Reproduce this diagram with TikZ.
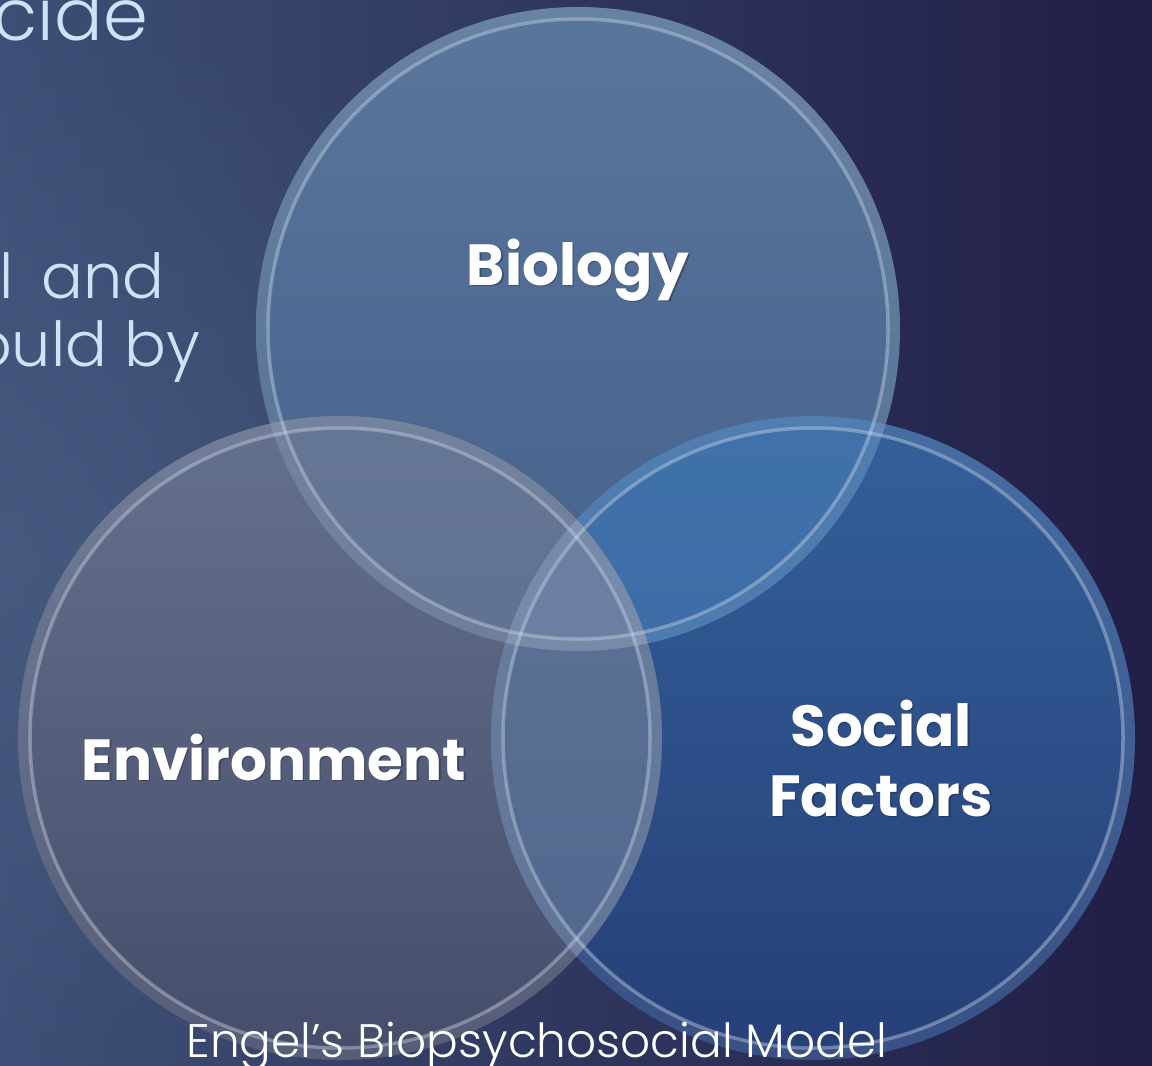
\documentclass[tikz,border=0pt]{standalone}
\usepackage{fontspec}
\setmainfont{Poppins}
\IfFontExistsTF{Poppins Light}
  {\newfontfamily\thinfont{Poppins Light}}
  {\newfontfamily\thinfont{Poppins}}
\usetikzlibrary{fadings}

% palette
\definecolor{bgL}{HTML}{3D4F76}
\definecolor{bgR}{HTML}{211E47}
\definecolor{bgGlow}{HTML}{485C82}
\definecolor{bodyTxt}{HTML}{CFE2F7}
\definecolor{bioT}{HTML}{5A769C}
\definecolor{bioB}{HTML}{45618B}
\definecolor{envT}{HTML}{64718E}
\definecolor{envB}{HTML}{464D6A}
\definecolor{socT}{HTML}{34609A}
\definecolor{socB}{HTML}{263F78}
\definecolor{bsT}{HTML}{4072AA}
\definecolor{bsB}{HTML}{3865A0}
\definecolor{ebT}{HTML}{6E7E9C}
\definecolor{ebB}{HTML}{617290}
\definecolor{esT}{HTML}{5E7699}
\definecolor{esB}{HTML}{50658C}
\definecolor{ebsC}{HTML}{6A7FA2}
\definecolor{rimC}{HTML}{C8D4E8}

\tikzfading[name=glowfade, inner color=transparent!0, outer color=transparent!100]

\tikzset{
  rimband/.style={draw=white, draw opacity=0.09, line width=12pt},
  rimline/.style={draw=rimC, draw opacity=0.42, line width=3.5pt},
  lblfont/.style={font=\fontsize{58}{70}\selectfont\bfseries, align=center},
  lbl/.style={lblfont, text=white},
  lblshadow/.style={lblfont, text=black, text opacity=0.25},
  bodytext/.style={text=bodyTxt, font=\thinfont\fontsize{62}{70}\selectfont, inner sep=0pt, anchor=base east},
  caption/.style={text=white, font=\thinfont\fontsize{47}{52}\selectfont, inner sep=0pt, anchor=base}
}

\begin{document}
\begin{tikzpicture}[x=1pt,y=-1pt]
  \useasboundingbox (0,0) rectangle (1152,1066);
  \clip (0,0) rectangle (1152,1066);

  % backdrop
  \shade[left color=bgL, right color=bgR] (0,0) rectangle (1152,1066);
  \fill[bgGlow, path fading=glowfade, fill opacity=0.8] (0,560) ellipse (620 and 560);

  % slide text running behind the diagram
  \node[bodytext, font=\thinfont\fontsize{72}{80}\selectfont] (ttl) at (148,40) {cide};
  \node[bodytext] (ln1) at (165,298) {l\hspace{0.45em}and};
  \node[bodytext] (ln2) at (200,366) {ould by};

  % circle centres
  \coordinate (cB) at (578,329);
  \coordinate (cE) at (340,738);
  \coordinate (cS) at (813,738);
  \def\R{322}

  % base discs
  \shade[top color=bioT, bottom color=bioB] (cB) circle (\R);
  \shade[top color=socT, bottom color=socB] (cS) circle (\R);
  \begin{scope}
    \clip (cB) circle (\R);
    \shade[top color=bsT, bottom color=bsB] (cS) circle (\R);
  \end{scope}
  \shade[top color=envT, bottom color=envB] (cE) circle (\R);
  \begin{scope}
    \clip (cE) circle (\R);
    \shade[top color=ebT, bottom color=ebB] (cB) circle (\R);
    \shade[top color=esT, bottom color=esB] (cS) circle (\R);
    \clip (cB) circle (\R);
    \fill[ebsC] (cS) circle (\R);
  \end{scope}

  % glassy rims
  \foreach \c in {cB,cS,cE}{
    \draw[rimband] (\c) circle (\R-6);
    \draw[rimline] (\c) circle (\R-12);
  }

  % labels
  \node[lblshadow] (bioS) at (579.5,271.5) {Biology};
  \node[lbl] (bio) at (578,270) {Biology};
  \node[lblshadow] (envS) at (275.5,758.5) {Environment};
  \node[lbl] (env) at (274,757) {Environment};
  \node[lblshadow] (socS) at (882.5,759.5) {Social\\Factors};
  \node[lbl] (soc) at (881,758) {Social\\Factors};

  % caption
  \node[caption] (cap) at (537,1057) {Engel’s Biopsychosocial Model};
\end{tikzpicture}
\end{document}
